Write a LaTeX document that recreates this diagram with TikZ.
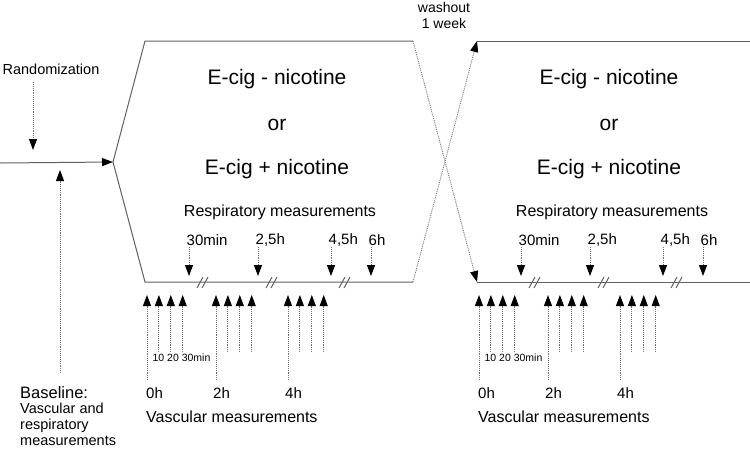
\documentclass[tikz,border=0pt]{standalone}
\usepackage{fontspec}
\setmainfont{Liberation Sans}
\usetikzlibrary{arrows.meta}
\begin{document}
\begin{tikzpicture}[x=1pt,y=-1pt,
  solidline/.style={draw=black!62, line width=1pt},
  dotline/.style={draw=black!55, densely dotted, line width=0.9pt},
  tipdown/.style={-{Triangle[width=8pt,length=11pt,color=black]}},
  bigtext/.style={font=\fontsize{21}{25}\selectfont, inner sep=0pt},
  midtext/.style={font=\fontsize{16}{19}\selectfont, inner sep=0pt},
  lbltext/.style={font=\fontsize{15}{18}\selectfont, inner sep=0pt},
  smalltext/.style={font=\fontsize{10.5}{12}\selectfont, inner sep=0pt},
  sidetext/.style={font=\fontsize{14.5}{16.5}\selectfont, inner sep=0pt}
]
\useasboundingbox (0,0) rectangle (750,448);

% entry
\coordinate (S) at (0,163);
\coordinate (L) at (113,162);
\draw[solidline,tipdown] (S) -- (L);

% panel outlines
\coordinate (TL1) at (145,41);
\coordinate (TR1) at (413,41);
\coordinate (BL1) at (145,282);
\coordinate (BR1) at (413,282);
\coordinate (TL2) at (477,41);
\coordinate (TR2) at (750,41);
\coordinate (BL2) at (477,282);
\coordinate (BR2) at (750,282);
\draw[solidline] (L) -- (TL1) -- (TR1);
\draw[solidline] (L) -- (BL1) -- (BR1);
\draw[solidline] (TL2) -- (TR2);
\draw[solidline] (BL2) -- (BR2);
\draw[dotline,tipdown] (TR1) -- (BL2);
\draw[dotline,tipdown] (BR1) -- (TL2);

% washout
\node[sidetext, align=center, font=\fontsize{14}{16}\selectfont] (wash) at (444,15) {washout\\1 week};

% randomization
\node[sidetext] (rand) at (51,69) {Randomization};
\coordinate (rs) at (33,82);
\coordinate (re) at (33,150);
\draw[dotline,tipdown] (rs) -- (re);

% baseline
\coordinate (bs) at (60,373);
\coordinate (be) at (60,170);
\draw[dotline,tipdown] (bs) -- (be);
\node[font=\fontsize{16.5}{19}\selectfont, inner sep=0pt, anchor=base west] (base1) at (20,398) {Baseline:};
\node[sidetext, anchor=base west] (base2) at (20,413) {Vascular and};
\node[sidetext, anchor=base west] (base3) at (20,429) {respiratory};
\node[sidetext, anchor=base west] (base4) at (20,445) {measurements};

\foreach \p/\dx in {1/0, 2/332} {
\begin{scope}[xshift=\dx]
  \node[bigtext] (ecA\p) at (277,79) {E-cig - nicotine};
  \node[bigtext] (or\p) at (277,125) {or};
  \node[bigtext] (ecB\p) at (277,169) {E-cig + nicotine};
  \node[midtext] (resp\p) at (280,212) {Respiratory measurements};
  % respiratory arrows
  \foreach \x/\lab/\n in {189/30min/a, 258/{2,5h}/b, 331/{4,5h}/c, 371/6h/d} {
    \node[lbltext, anchor=west] (t\p\n) at (\x-2.5,240) {\lab};
    \coordinate (ds\p\n) at (\x,247);
    \coordinate (de\p\n) at (\x,276);
    \draw[dotline,tipdown] (ds\p\n) -- (de\p\n);
  }
  % breaks
  \foreach \x in {203,272,345} {
    \draw[solidline] (\x-6,288) -- (\x,277);
    \draw[solidline] (\x-1,288) -- (\x+5,277);
  }
  % vascular arrows
  \foreach \gx/\g in {147/a, 216/b, 288/c} {
    \foreach \k in {0,1,2,3} {
      \pgfmathsetmacro{\yy}{\k==0 ? 380 : 352}
      \coordinate (us\p\g\k) at (\gx+\k*11.9,\yy);
      \coordinate (ue\p\g\k) at (\gx+\k*11.9,295);
      \draw[dotline,tipdown] (us\p\g\k) -- (ue\p\g\k);
    }
  }
  \node[smalltext] (mins\p) at (181.5,358) {10 20 30min};
  \node[lbltext, anchor=west] (h0\p) at (146,393) {0h};
  \node[lbltext, anchor=west] (h2\p) at (213,393) {2h};
  \node[lbltext, anchor=west] (h4\p) at (285,393) {4h};
  \node[midtext, anchor=west] (vasc\p) at (146,417) {Vascular measurements};
\end{scope}
}
\end{tikzpicture}
\end{document}
